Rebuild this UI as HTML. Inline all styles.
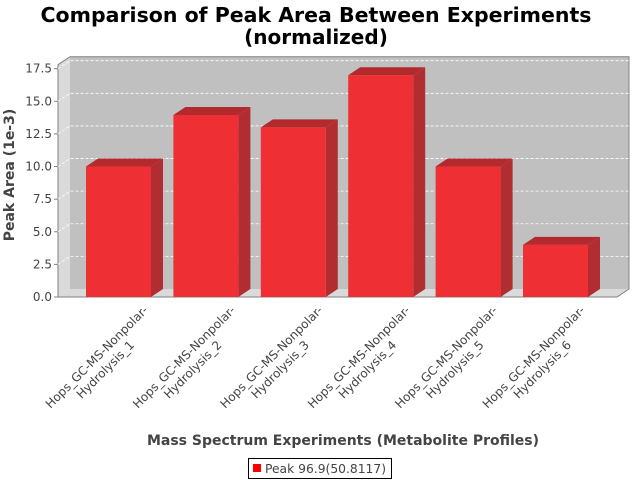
<!DOCTYPE html>
<html><head><meta charset="utf-8"><style>
body{margin:0;background:#fff}
svg{display:block;font-family:"DejaVu Sans","Liberation Sans",sans-serif}
</style></head><body>
<svg width="640" height="480" viewBox="0 0 640 480">
<text x="316" y="22" text-anchor="middle" font-size="20" font-weight="bold" fill="#000" textLength="551" lengthAdjust="spacingAndGlyphs">Comparison of Peak Area Between Experiments</text>
<text x="316" y="44" text-anchor="middle" font-size="20" font-weight="bold" fill="#000">(normalized)</text>
<g id="plot"></g>
<text transform="translate(14,175) rotate(-90)" text-anchor="middle" font-size="14" font-weight="bold" fill="#444">Peak Area (1e-3)</text>
<text x="343" y="445" text-anchor="middle" font-size="14" font-weight="bold" fill="#444">Mass Spectrum Experiments (Metabolite Profiles)</text>
<g>
<rect x="248.5" y="458.5" width="143" height="20" fill="#fff" stroke="#000"/>
<rect x="253" y="464" width="8" height="8" fill="#f00"/>
<text x="265" y="473" font-size="12" fill="#444" textLength="121" lengthAdjust="spacingAndGlyphs">Peak 96.9(50.8117)</text>
</g>
</svg>
<script>
const categories=["Hops_GC-MS-Nonpolar-|Hydrolysis_1","Hops_GC-MS-Nonpolar-|Hydrolysis_2","Hops_GC-MS-Nonpolar-|Hydrolysis_3","Hops_GC-MS-Nonpolar-|Hydrolysis_4","Hops_GC-MS-Nonpolar-|Hydrolysis_5","Hops_GC-MS-Nonpolar-|Hydrolysis_6"];
const values=[10.0,13.95,13.0,17.0,10.0,4.0];
const yTicks=[0,2.5,5,7.5,10,12.5,15,17.5];
const yTickLabels=["0.0","2.5","5.0","7.5","10.0","12.5","15.0","17.5"];
const NS="http://www.w3.org/2000/svg";
const g=document.getElementById('plot');
const X0=58,X1=617,Y0=297,PPU=228.3/17.5,DX=12,DY=-8;
const yS=v=>Y0-v*PPU;
const CAT_START=118.5,CAT_STEP=(555.5-118.5)/5;
const xC=i=>CAT_START+CAT_STEP*i;
function mk(t,a){const e=document.createElementNS(NS,t);for(const k in a)e.setAttribute(k,a[k]);g.appendChild(e);return e;}
let e;
e=mk('polygon',{points:`${X0},${Y0} ${X0+DX},${Y0+DY} ${X0+DX},${yS(17.5)+DY-4} ${X0},${yS(17.5)-4}`,fill:'#dadada'});


e=mk('rect',{x:X0+DX,y:yS(17.5)+DY-4,width:X1-X0,height:Y0-yS(17.5)+4,fill:'#c0c0c0'});


e=mk('polygon',{points:`${X0},${Y0} ${X0+DX},${Y0+DY} ${X1+DX},${Y0+DY} ${X1},${Y0}`,fill:'#dadada'});


e=mk('polyline',{points:`${X0},${Y0} ${X0},${yS(17.5)-4} ${X0+DX},${yS(17.5)+DY-4} ${X1+DX},${yS(17.5)+DY-4} ${X1+DX},${Y0+DY} ${X1},${Y0} ${X0},${Y0}`,fill:'none',stroke:'#808080'});


yTicks.forEach((v,i)=>{
 const y=yS(v);
 if(v>0){const l=mk('polyline',{points:`${X0},${y} ${X0+DX},${y+DY} ${X1+DX},${y+DY}`,fill:'none',stroke:'#fff','stroke-width':0.8,'stroke-dasharray':'3,2'});
 
 }
 const t=mk('line',{x1:X0-4,x2:X0,y1:y,y2:y,stroke:'#808080'});
 
 
 const tx=mk('text',{x:X0-6,y:y+4,'text-anchor':'end','font-size':12,fill:'#444'});
 tx.textContent=yTickLabels[i];
 
 
});
const BW=65;
values.forEach((v,i)=>{
 const x=xC(i)-BW/2,y=yS(v);
 const grp=document.createElementNS(NS,'g');g.appendChild(grp);
 
 
 const add=(t,a)=>{const el=document.createElementNS(NS,t);for(const k in a)el.setAttribute(k,a[k]);grp.appendChild(el);return el;};
 add('polygon',{points:`${x+BW},${Y0} ${x+BW+DX},${Y0+DY} ${x+BW+DX},${y+DY} ${x+BW},${y}`,fill:'#b22d31'});
 add('polygon',{points:`${x},${y} ${x+DX},${y+DY} ${x+BW+DX},${y+DY} ${x+BW},${y}`,fill:'#b22a2e'});
 add('rect',{x:x,y:y,width:BW,height:Y0-y,fill:'#ee2f33'});
 const lines=categories[i].split('|');
 const lg=document.createElementNS(NS,'g');g.appendChild(lg);
 lg.setAttribute('transform',`translate(${xC(i)+30},311) rotate(-45)`);
 
 
 lines.forEach((s,j)=>{const t=document.createElementNS(NS,'text');
  t.setAttribute('x',j?-72:0);t.setAttribute('y',j*15);
  t.setAttribute('text-anchor',j?'middle':'end');t.setAttribute('font-size',12);t.setAttribute('fill','#444');
  t.textContent=s;lg.appendChild(t);});
});
</script>
</body></html>
